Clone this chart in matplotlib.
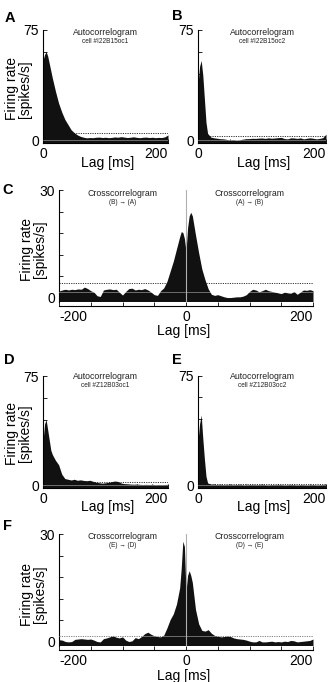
import numpy as np
import matplotlib
matplotlib.use("Agg")
import matplotlib.pyplot as plt

# ==========================================
# Data
# ==========================================

# autocorrelogram lags [ms]: finer near zero
auto_lags = [0, 2.5, 5, 7.5, 10, 12.5] + list(range(15, 201, 5))

# cross-correlogram lags [ms]
cross_lags = list(range(-200, -10, 5)) + [-10, -7.5, -5, -2.5, 0, 2.5, 5, 7.5, 10] + list(range(15, 201, 5))

rate_a = [54, 58, 60, 57, 52, 47,
          42, 33, 25, 19, 14, 10.5, 7, 5, 3.5, 2.5, 1.9, 1.5, 1.7, 1.6, 1.9, 2.0,
          1.7, 1.9, 1.6, 1.8, 2.1, 1.9, 2.3, 2.0, 1.7, 1.9, 2.2, 1.8, 1.6, 1.9, 2.0,
          1.7, 1.9, 1.6, 1.8, 1.7, 2.2, 3.5]

rate_b = [38, 50, 54, 44, 28, 12,
          4.5, 2.0, 1.5, 1.2, 0.9, 0.8, 0.4, 0.1, 0.3, 0.0, 0.2, 0.6, 0.9, 1.0, 1.2, 1.1,
          1.3, 1.4, 1.1, 1.5, 1.2, 1.4, 1.6, 1.8, 1.0, 0.8, 1.5, 1.4, 1.1, 1.5, 0.8,
          1.2, 1.5, 1.2, 0.8, 1.1, 1.6, 4.0]

rate_c = [1.9, 2.2, 2.4, 2.2, 2.4, 2.3, 2.5, 2.4, 3.0, 2.6, 2.0, 1.6, 0.6, 0.4,
          2.2, 2.4, 2.5, 2.3, 2.4, 1.6, 0.8, 1.8, 2.6, 2.7, 2.2, 2.4, 2.3, 2.6,
          2.2, 1.6, 0.9, 0.7, 2.0, 2.8, 4.6, 7.4, 10.2, 13.6,
          17.0, 18.4, 18.2, 16.5, 13.0, 19.5, 22.8, 23.8, 22.8,
          17.5, 12.5, 8.0, 5.0, 2.5, 1.0, 0.7, 0.9, 0.6, 0.3, 0.1, 0.1, 0.2, 0.3,
          0.3, 0.5, 0.9, 1.8, 2.4, 2.2, 1.7, 2.0, 2.4, 2.0, 1.8, 1.6, 1.4, 1.2,
          1.6, 1.4, 1.3, 1.8, 1.0, 1.6, 2.2, 2.1, 2.3, 2.0]

rate_d = [30, 42, 45, 38, 31, 24,
          21, 17, 14, 7.5, 4.5, 4.0, 3.5, 4.0, 3.3, 3.6, 3.2, 3.0, 3.3, 2.6, 2.0, 1.6,
          1.3, 1.6, 1.9, 2.4, 2.8, 2.5, 1.4, 1.0, 0.9, 0.7, 0.6, 0.7, 0.5, 0.4, 0.5,
          0.4, 0.5, 0.3, 0.4, 0.3, 0.4, 0.5]

rate_e = [30, 42, 48, 32, 18, 6,
          1.5, 0.6, 0.5, 0.4, 0.6, 0.3, 0.4, 0.5, 0.3, 0.4, 0.6, 0.3, 0.2, 0.4, 0.5, 0.3,
          0.4, 0.6, 0.3, 0.2, 0.4, 0.3, 0.5, 0.4, 0.2, 0.3, 0.5, 0.3, 0.2, 0.4, 0.3,
          0.2, 0.3, 0.4, 0.2, 0.3, 0.4, 0.6]

rate_f = [0.6, 0.5, 0.1, 0.0, 0.1, 0.7, 0.8, 0.9, 0.8, 0.7, 0.8, 0.5, 0.1, 0.0,
          0.9, 1.1, 1.4, 1.7, 1.3, 1.1, 1.4, 0.5, 0.1, 0.3, 1.2, 0.9, 1.5, 2.3,
          2.7, 2.1, 1.7, 1.5, 1.4, 1.9, 3.9, 6.2, 7.8, 10.5,
          15.0, 20.5, 28.0, 26.5, 14.0, 18.5, 19.8, 18.5, 16.5,
          9.0, 5.0, 3.2, 3.0, 3.4, 2.4, 1.8, 1.6, 1.4, 1.5, 1.7, 1.5, 1.1, 0.9,
          0.8, 0.7, 0.5, 0.2, 0.0, 0.0, 0.4, 0.0, 0.0, 0.1, 0.2, 0.0, 0.1, 0.0,
          0.2, 0.1, 0.4, 0.3, 0.0, 0.1, 0.2, 0.3, 0.4, 0.8]

# dotted reference levels
level_a, level_b, level_c, level_d, level_e, level_f = 4.8, 2.9, 4.2, 1.8, 0.6, 1.7

cells = ["cell #I22B15oc1", "cell #I22B15oc2", "cell #Z12B03oc1", "cell #Z12B03oc2"]
cross_c = ["(B) \u2192 (A)", "(A) \u2192 (B)"]
cross_f = ["(E) \u2192 (D)", "(D) \u2192 (E)"]

# ==========================================
# Figure
# ==========================================

plt.rcParams["font.family"] = ["Liberation Sans", "DejaVu Sans"]

W, H = 332, 682
fig = plt.figure(figsize=(W / 100, H / 100), dpi=100)


def add_ax(left, top, right, bottom):
    return fig.add_axes([left / W, 1 - bottom / H, (right - left) / W, (bottom - top) / H])


def style(ax, cross):
    for s in ["top", "right"]:
        ax.spines[s].set_visible(False)
    for s in ["left", "bottom"]:
        ax.spines[s].set_linewidth(0.8)
    if cross:
        ax.spines["bottom"].set_position(("outward", 3))
    ax.tick_params(direction="in", length=3, width=0.6, labelsize=10, pad=3)
    # end labels sit inside the axis span, like the original
    labels = ax.get_xticklabels()
    labels[-1].set_horizontalalignment("right")
    if cross:
        labels[0].set_horizontalalignment("left")


def auto_panel(ax, rates, level, cell, ylab, title_y, sub_y, lab_x, lab_y):
    ax.fill_between(auto_lags, -2, rates, color="#111111", lw=0, zorder=2)
    ax.axhline(level, color="#333333", lw=0.7, ls=(0, (1.2, 1.2)), zorder=1)
    ax.axhline(0, color="white", alpha=0.45, lw=0.6, zorder=3)
    ax.set_xlim(0, 200)
    ax.set_ylim(-2, 75)
    ax.set_xticks(range(0, 201, 25))
    ax.set_xticklabels(["0", "", "", "", "", "", "", "", "200"])
    ax.set_yticks(range(0, 76, 15))
    ax.set_yticklabels(["0", "", "", "", "", "75"])
    style(ax, False)
    ax.text(0.5, title_y, "Autocorrelogram", transform=ax.transAxes,
            ha="center", va="center", fontsize=6.3, color="#222222")
    ax.text(0.5, sub_y, cell, transform=ax.transAxes,
            ha="center", va="center", fontsize=4.7, color="#222222")
    ax.text(lab_x, lab_y, "Lag [ms]", transform=ax.transAxes,
            ha="center", va="center", fontsize=10)
    if ylab is not None:
        ax.text(ylab[0], ylab[1], "Firing rate\n[spikes/s]", transform=ax.transAxes,
                ha="center", va="center", rotation=90, fontsize=10, linespacing=0.95)


def cross_panel(ax, rates, level, subs, title_y, sub_y, lab_y, ylab):
    ax.fill_between(cross_lags, -1, rates, color="#111111", lw=0, zorder=2)
    ax.axhline(level, color="#333333", lw=0.7, ls=(0, (1.2, 1.2)), zorder=1)
    ax.axhline(1.6, color="white", alpha=0.45, lw=0.6, zorder=3)
    ax.axvline(0, color="#b0b0b0", lw=0.8, zorder=3)
    ax.set_xlim(-200, 200)
    ax.set_ylim(-1, 30)
    ax.set_xticks(range(-200, 201, 50))
    ax.set_xticklabels(["-200", "", "", "", "0", "", "", "", "200"])
    ax.set_yticks(range(0, 31, 6))
    ax.set_yticklabels(["0", "", "", "", "", "30"])
    style(ax, True)
    trans = ax.get_xaxis_transform()
    for xc, sub in zip([-100, 100], subs):
        ax.text(xc, title_y, "Crosscorrelogram", transform=trans,
                ha="center", va="center", fontsize=6.3, color="#222222")
        ax.text(xc, sub_y, sub, transform=trans,
                ha="center", va="center", fontsize=4.7, color="#222222")
    ax.text(0.49, lab_y, "Lag [ms]", transform=ax.transAxes,
            ha="center", va="center", fontsize=10)
    ax.text(ylab[0], ylab[1], "Firing rate\n[spikes/s]", transform=ax.transAxes,
            ha="center", va="center", rotation=90, fontsize=10, linespacing=0.95)


# ==========================================
# Panels
# ==========================================

ax_a = add_ax(43, 29.5, 168, 143)
auto_panel(ax_a, rate_a, level_a, cells[0], (-0.196, 0.476), 0.97, 0.89, 0.52, -0.176)

ax_b = add_ax(198, 29.5, 326, 143)
auto_panel(ax_b, rate_b, level_b, cells[1], None, 0.97, 0.89, 0.51, -0.172)

ax_c = add_ax(59, 190, 313, 301.5)
cross_panel(ax_c, rate_c, level_c, cross_c, 0.973, 0.884, -0.265, (-0.1, 0.47))

ax_d = add_ax(43, 376, 168, 488)
auto_panel(ax_d, rate_d, level_d, cells[2], (-0.196, 0.49), 0.994, 0.911, 0.52, -0.17)

ax_e = add_ax(198, 375.5, 326, 488)
auto_panel(ax_e, rate_e, level_e, cells[3], None, 0.991, 0.911, 0.51, -0.17)

ax_f = add_ax(59, 534, 313, 645.5)
cross_panel(ax_f, rate_f, level_f, cross_f, 0.982, 0.895, -0.27, (-0.1, 0.46))

# panel letters
for letter, px, py in [("A", 10, 18), ("B", 177, 16.5), ("C", 8, 190),
                       ("D", 9.5, 360), ("E", 177, 360), ("F", 8, 526)]:
    fig.text(px / W, 1 - py / H, letter, ha="center", va="center",
             fontsize=10.5, fontweight="bold")

fig.savefig("out.png", dpi=100)
